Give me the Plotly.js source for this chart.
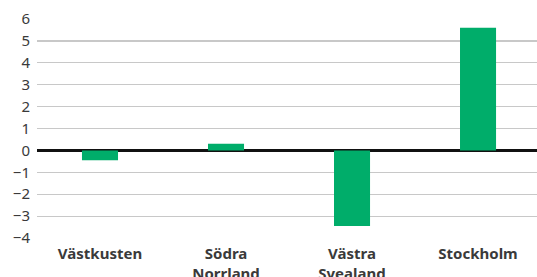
<!DOCTYPE html>
<html>
<head>
<meta charset="utf-8">
<script src="https://cdn.plot.ly/plotly-3.0.1.min.js"></script>
<style>html,body{margin:0;padding:0;overflow:hidden;background:#fff}</style>
</head>
<body>
<div id="chart" style="width:537px;height:277px"></div>
<script>
const categories = ["Västkusten", "Södra<br>Norrland", "Västra<br>Svealand", "Stockholm"];
const values = [-0.45, 0.3, -3.45, 5.6];
const yTicks = [-4, -3, -2, -1, 0, 1, 2, 3, 4, 5, 6];

Plotly.newPlot("chart", [{
  type: "bar",
  x: categories,
  y: values,
  width: 0.286,
  marker: {color: "#00ad6a"},
  hoverinfo: "skip"
}], {
  width: 537, height: 277,
  margin: {l: 37, r: 0, t: 19, b: 38.5, pad: 0},
  paper_bgcolor: "#fff", plot_bgcolor: "#fff",
  showlegend: false,
  font: {family: "'Noto Sans', Lato, sans-serif", color: "#3a3a3a", size: 15},
  xaxis: {
    range: [-0.5, 3.468],
    showgrid: false, showline: false, zeroline: false,
    ticks: "", ticklabelstandoff: 5,
    tickfont: {size: 15, weight: "bold", color: "#3a3a3a"}
  },
  yaxis: {
    range: [-4, 6],
    tickvals: yTicks,
    showgrid: true, gridcolor: "#c8c8c8", gridwidth: 1.2,
    zeroline: true, zerolinecolor: "#111", zerolinewidth: 2.2,
    showline: false, ticks: "", ticklabelstandoff: 6,
    tickfont: {size: 15, color: "#3a3a3a"}
  }
}, {displayModeBar: false, staticPlot: true});
</script>
</body>
</html>
